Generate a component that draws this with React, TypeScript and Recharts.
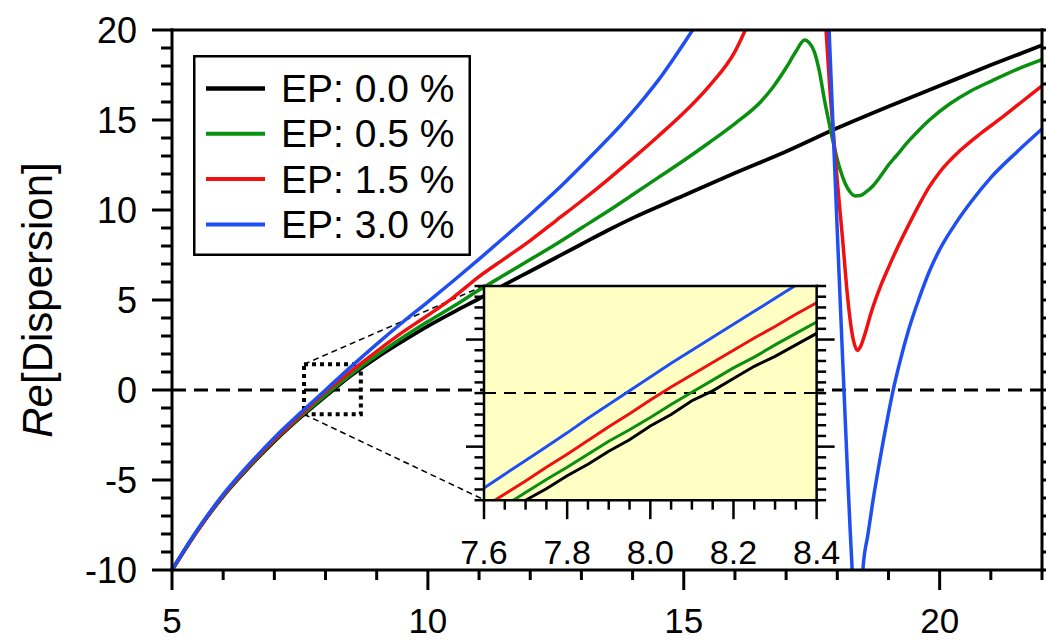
import React from "react";
import {
  CartesianGrid,
  Legend,
  Line,
  LineChart,
  ReferenceArea,
  ReferenceLine,
  XAxis,
  YAxis,
} from "recharts";

const FONT = "'Liberation Sans', Arial, sans-serif";

// Re[Dispersion] curves, [x, y] pairs per excess-pressure setting
const EP00: [number, number][] = [
  [5, -10], [5.5, -7.8], [6, -5.9], [6.5, -4.3], [7, -2.85], [7.5, -1.55], [8, -0.35],
  [8.5, 0.8], [9, 1.8], [9.5, 2.7], [10, 3.55], [10.5, 4.33], [11, 5.07], [11.5, 5.85],
  [12, 6.6], [12.5, 7.35], [13, 8.1], [13.5, 8.85], [14, 9.55], [15, 10.8], [16, 12.05],
  [17, 13.25], [18, 14.55], [19, 15.75], [20, 16.9], [21, 18.05], [22, 19.15],
];

const EP05: [number, number][] = [
  [5, -10], [5.5, -7.8], [6, -5.88], [6.5, -4.27], [7, -2.8], [7.5, -1.5], [8, -0.28],
  [8.5, 0.87], [9, 1.92], [9.5, 2.9], [10, 3.8], [10.5, 4.65], [11, 5.55], [11.5, 6.4],
  [12, 7.25], [12.5, 8.1], [13, 9.0], [13.5, 9.9], [14, 10.85], [14.5, 11.8], [15, 12.75],
  [15.5, 13.75], [16, 14.8], [16.5, 16.0], [16.75, 16.85], [17, 17.9], [17.2, 18.85],
  [17.36, 19.45], [17.45, 19.3], [17.55, 18.8], [17.65, 17.7], [17.75, 16.1], [17.85, 14.7],
  [17.95, 13.4], [18.05, 12.3], [18.15, 11.5], [18.25, 11.0], [18.35, 10.78], [18.45, 10.8],
  [18.55, 10.98], [18.7, 11.35], [18.85, 11.9], [19, 12.5], [19.15, 13.0], [19.4, 13.85],
  [19.6, 14.45], [19.8, 15.0], [20.2, 15.9], [20.6, 16.6], [21, 17.15], [21.5, 17.8], [22, 18.35],
];

const EP15: [number, number][] = [
  [5, -10], [5.5, -7.8], [6, -5.85], [6.5, -4.22], [7, -2.75], [7.5, -1.42], [8, -0.1],
  [8.5, 1.05], [9, 2.15], [9.5, 3.2], [10, 4.15], [10.5, 5.15], [11, 6.3], [11.5, 7.3],
  [12, 8.3], [12.5, 9.4], [13, 10.5], [13.5, 11.65], [14, 12.85], [14.5, 14.1], [15, 15.4],
  [15.5, 16.9], [16, 18.8], [16.25, 20.3], [16.5, 22], [17, 25.5], [17.4, 27], [17.65, 24.5],
  [17.78, 20], [17.85, 16.9], [17.92, 14.4], [18, 11.6], [18.1, 8.5], [18.2, 5.2],
  [18.26, 3.7], [18.32, 2.7], [18.4, 2.2], [18.46, 2.45], [18.55, 3.2], [18.65, 4.2],
  [18.75, 5.05], [18.85, 5.8], [19, 6.8], [19.15, 7.75], [19.4, 9.2], [19.6, 10.3],
  [19.8, 11.3], [20, 12.1], [20.4, 13.3], [20.8, 14.25], [21.2, 15.1], [21.6, 16], [22, 16.9],
];

const EP30: [number, number][] = [
  [5, -10], [5.5, -7.75], [6, -5.8], [6.5, -4.15], [7, -2.65], [7.5, -1.3], [8, 0],
  [8.5, 1.3], [9, 2.55], [9.5, 3.75], [10, 4.9], [10.5, 6.07], [11, 7.27], [11.5, 8.5],
  [12, 9.75], [12.5, 11.05], [13, 12.45], [13.5, 13.9], [13.75, 14.65], [14, 15.45],
  [14.25, 16.3], [14.5, 17.2], [14.75, 18.2], [15, 19.25], [15.25, 20.35], [15.5, 21.6],
  [16, 24], [16.5, 26.5], [17, 28], [17.5, 27], [17.7, 24.5], [17.8, 22.7], [17.84, 20],
  [17.88, 17.2], [17.92, 14.4], [17.96, 11.6], [18, 8.8], [18.05, 5.4], [18.1, 2],
  [18.15, -1.3], [18.2, -4.6], [18.25, -7.7], [18.3, -10.5], [18.35, -13.2], [18.4, -14.5],
  [18.45, -13.2], [18.5, -10], [18.6, -8], [18.7, -6.1], [18.8, -4.4], [18.9, -2.8],
  [19, -1.3], [19.1, 0.1], [19.2, 1.3], [19.4, 3.4], [19.6, 5.1], [19.8, 6.6], [20, 7.8],
  [20.3, 9.2], [20.6, 10.4], [21, 11.8], [21.5, 13.2], [22, 14.5],
];

// zoomed view around the zero crossing
const EP00_ZOOM: [number, number][] = [
  [7.6, -1.72], [7.65, -1.56], [7.7, -1.4], [7.75, -1.25], [7.8, -1.08], [7.85, -0.93],
  [7.9, -0.76], [7.95, -0.61], [8.0, -0.43], [8.05, -0.28], [8.1, -0.1], [8.15, 0.03],
  [8.2, 0.19], [8.25, 0.35], [8.3, 0.48], [8.35, 0.63], [8.4, 0.78],
];
const EP05_ZOOM: [number, number][] = [
  [7.6, -1.63], [7.65, -1.47], [7.7, -1.3], [7.75, -1.13], [7.8, -0.97], [7.85, -0.8],
  [7.9, -0.63], [7.95, -0.48], [8.0, -0.32], [8.05, -0.15], [8.1, 0.01], [8.15, 0.17],
  [8.2, 0.33], [8.25, 0.47], [8.3, 0.63], [8.35, 0.78], [8.4, 0.93],
];
const EP15_ZOOM: [number, number][] = [
  [7.6, -1.49], [7.65, -1.32], [7.7, -1.15], [7.75, -0.97], [7.8, -0.8], [7.85, -0.62],
  [7.9, -0.44], [7.95, -0.27], [8.0, -0.09], [8.05, 0.08], [8.1, 0.24], [8.15, 0.4],
  [8.2, 0.56], [8.25, 0.72], [8.3, 0.87], [8.35, 1.03], [8.4, 1.18],
];
const EP30_ZOOM: [number, number][] = [
  [7.6, -1.24], [7.65, -1.06], [7.7, -0.88], [7.75, -0.7], [7.8, -0.52], [7.85, -0.33],
  [7.9, -0.15], [7.95, 0.03], [8.0, 0.21], [8.05, 0.39], [8.1, 0.56], [8.15, 0.73],
  [8.2, 0.9], [8.25, 1.07], [8.3, 1.24], [8.35, 1.41], [8.4, 1.58],
];

const SERIES = [
  { name: "EP: 0.0 %", color: "#000000", width: 3.8, main: EP00, zoom: EP00_ZOOM },
  { name: "EP: 0.5 %", color: "#0a9010", width: 3.5, main: EP05, zoom: EP05_ZOOM },
  { name: "EP: 1.5 %", color: "#f01010", width: 3.5, main: EP15, zoom: EP15_ZOOM },
  { name: "EP: 3.0 %", color: "#1f4ff2", width: 3.5, main: EP30, zoom: EP30_ZOOM },
];

const X_DOMAIN: [number, number] = [5, 22];
const Y_DOMAIN: [number, number] = [-10, 20];
const X_LABELS = [5, 10, 15, 20];
const Y_LABELS = [-10, -5, 0, 5, 10, 15, 20];

const ZOOM_X_DOMAIN: [number, number] = [7.6, 8.4];
const ZOOM_Y_DOMAIN: [number, number] = [-1.4, 1.4];
const ZOOM_X_LABELS = [7.6, 7.8, 8.0, 8.2, 8.4];
const ZOOM_Y_MAJOR = [-0.7, 0.7];

// dotted marker around the zoomed region, and where the inset sits (main data units)
const ZOOM_MARK = { x1: 7.58, x2: 8.69, y1: -1.35, y2: 1.43 };
const INSET_BOX = { x1: 11.1, x2: 17.6, y1: -6.1, y2: 5.8 };

const W = 1046;
const H = 641;
const PLOT = { left: 172, top: 30, right: 1042, bottom: 570 };
const INSET_PAD = { left: 40, right: 40, top: 30, bottom: 80 };

const range = (a: number, b: number, step: number) => {
  const out: number[] = [];
  const n = Math.round((b - a) / step);
  for (let i = 0; i <= n; i++) out.push(Math.round((a + i * step) * 1000) / 1000);
  return out;
};

const X_TICKS = range(5, 22, 1);
const Y_TICKS = range(-10, 20, 1);
const ZOOM_X_TICKS = range(7.6, 8.4, 0.05);
const ZOOM_Y_TICKS = range(-1.4, 1.4, 0.14);

const toRows = (pts: [number, number][]) => pts.map(([x, y]) => ({ x, y }));

const px = (x: number) =>
  PLOT.left + ((x - X_DOMAIN[0]) / (X_DOMAIN[1] - X_DOMAIN[0])) * (PLOT.right - PLOT.left);
const py = (y: number) =>
  PLOT.bottom - ((y - Y_DOMAIN[0]) / (Y_DOMAIN[1] - Y_DOMAIN[0])) * (PLOT.bottom - PLOT.top);

const isIn = (list: number[], v: number) => list.some((m) => Math.abs(m - v) < 1e-6);

type Side = "bottom" | "top" | "left" | "right";

// tick line (long for majors) plus optional label for majors
function makeTick(
  side: Side,
  majors: number[],
  long: number,
  short: number,
  width: number,
  label?: { size: number; offset: number; digits: number }
) {
  return function Tick(props: any) {
    const x = props.x as number;
    const y = props.y as number;
    const v = props.payload.value as number;
    const major = isIn(majors, v);
    const len = major ? long : short;
    let x2 = x;
    let y2 = y;
    if (side === "bottom") y2 = y + len;
    if (side === "top") y2 = y - len;
    if (side === "left") x2 = x - len;
    if (side === "right") x2 = x + len;
    return (
      <g>
        <line x1={x} y1={y} x2={x2} y2={y2} stroke="#000" strokeWidth={width} />
        {label && major && side === "bottom" && (
          <text x={x} y={y + label.offset} textAnchor="middle" fontSize={label.size} fontFamily={FONT} fill="#000">
            {v.toFixed(label.digits)}
          </text>
        )}
        {label && major && side === "left" && (
          <text x={x - label.offset} y={y} dy="0.36em" textAnchor="end" fontSize={label.size} fontFamily={FONT} fill="#000">
            {v.toFixed(label.digits)}
          </text>
        )}
      </g>
    );
  };
}

const MainBottomTick = makeTick("bottom", X_LABELS, 20, 10, 3, { size: 35, offset: 63, digits: 0 });
const MainTopTick = makeTick("top", X_LABELS, 20, 11, 3);
const MainLeftTick = makeTick("left", Y_LABELS, 20, 11, 3, { size: 36, offset: 35, digits: 0 });
const MainRightTick = makeTick("right", Y_LABELS, 20, 11, 3);

const ZoomBottomTick = makeTick("bottom", ZOOM_X_LABELS, 19, 9.5, 2.5, { size: 34, offset: 63.5, digits: 1 });
const ZoomTopTick = makeTick("top", ZOOM_X_LABELS, 18, 9.5, 2.5);
const ZoomLeftTick = makeTick("left", ZOOM_Y_MAJOR, 18, 9.5, 2.5);
const ZoomRightTick = makeTick("right", ZOOM_Y_MAJOR, 18, 9.5, 2.5);

const FRAME = { stroke: "#000", strokeWidth: 3, strokeLinecap: "square" as const };
const ZOOM_FRAME = { stroke: "#000", strokeWidth: 2.5, strokeLinecap: "square" as const };

function YTitle() {
  const cx = 37;
  const cy = 300;
  return (
    <text
      x={cx}
      y={cy}
      transform={`rotate(-90 ${cx} ${cy})`}
      textAnchor="middle"
      dominantBaseline="central"
      fontSize={42}
      fontFamily={FONT}
      fill="#000"
    >
      <tspan fontStyle="italic">Re</tspan>
      <tspan>[Dispersion]</tspan>
    </text>
  );
}

const LEGEND = { left: 193, top: 55, w: 278, h: 201 };

function LegendBox(props: any) {
  const items: any[] = props.payload ?? [];
  return (
    <svg width={LEGEND.w} height={LEGEND.h} style={{ display: "block" }}>
      <rect
        x={1.25}
        y={1.25}
        width={LEGEND.w - 2.5}
        height={LEGEND.h - 2.5}
        fill="#fff"
        stroke="#000"
        strokeWidth={2.5}
      />
      {items.map((it, i) => {
        const cy = 33.5 + i * 45.3;
        return (
          <g key={it.value}>
            <line x1={13} x2={72} y1={cy} y2={cy} stroke={it.color} strokeWidth={i === 0 ? 4.5 : 4} />
            <text x={88} y={cy + 13.5} fontSize={39} fontFamily={FONT} fill="#000">
              {it.value}
            </text>
          </g>
        );
      })}
    </svg>
  );
}

function Inset() {
  const left = px(INSET_BOX.x1);
  const right = px(INSET_BOX.x2);
  const top = py(INSET_BOX.y2);
  const bottom = py(INSET_BOX.y1);
  const w = right - left + INSET_PAD.left + INSET_PAD.right;
  const h = bottom - top + INSET_PAD.top + INSET_PAD.bottom;
  return (
    <div style={{ position: "absolute", left: left - INSET_PAD.left, top: top - INSET_PAD.top }}>
      <LineChart
        width={w}
        height={h}
        margin={{
          top: INSET_PAD.top - 1,
          right: INSET_PAD.right - 1,
          bottom: INSET_PAD.bottom - 1,
          left: INSET_PAD.left - 1,
        }}
      >
        <CartesianGrid fill="#ffffc4" fillOpacity={1} horizontal={false} vertical={false} />
        <XAxis
          dataKey="x"
          type="number"
          domain={ZOOM_X_DOMAIN}
          ticks={ZOOM_X_TICKS}
          interval={0}
          allowDataOverflow
          height={1}
          tickSize={0}
          tickMargin={0}
          tickLine={false}
          axisLine={ZOOM_FRAME}
          tick={ZoomBottomTick}
        />
        <XAxis
          xAxisId="top"
          orientation="top"
          type="number"
          domain={ZOOM_X_DOMAIN}
          ticks={ZOOM_X_TICKS}
          interval={0}
          allowDataOverflow
          height={1}
          tickSize={0}
          tickMargin={0}
          tickLine={false}
          axisLine={ZOOM_FRAME}
          tick={ZoomTopTick}
        />
        <YAxis
          type="number"
          domain={ZOOM_Y_DOMAIN}
          ticks={ZOOM_Y_TICKS}
          interval={0}
          allowDataOverflow
          width={1}
          tickSize={0}
          tickMargin={0}
          tickLine={false}
          axisLine={ZOOM_FRAME}
          tick={ZoomLeftTick}
        />
        <YAxis
          yAxisId="right"
          orientation="right"
          type="number"
          domain={ZOOM_Y_DOMAIN}
          ticks={ZOOM_Y_TICKS}
          interval={0}
          allowDataOverflow
          width={1}
          tickSize={0}
          tickMargin={0}
          tickLine={false}
          axisLine={ZOOM_FRAME}
          tick={ZoomRightTick}
        />
        <ReferenceLine y={0} stroke="#000" strokeWidth={2} strokeDasharray="12 8" />
        {SERIES.map((s) => (
          <Line
            key={s.name}
            data={toRows(s.zoom)}
            dataKey="y"
            name={s.name}
            type="linear"
            stroke={s.color}
            strokeWidth={3}
            dot={false}
            activeDot={false}
            isAnimationActive={false}
          />
        ))}
      </LineChart>
    </div>
  );
}

export default function App() {
  return (
    <div style={{ position: "absolute", left: 0, top: 0, width: W, height: H, background: "#fff", overflow: "hidden" }}>
      <LineChart
        width={W}
        height={H}
        margin={{ top: PLOT.top - 1, right: W - PLOT.right - 1, bottom: H - PLOT.bottom - 1, left: PLOT.left - 1 }}
      >
        <XAxis
          dataKey="x"
          type="number"
          domain={X_DOMAIN}
          ticks={X_TICKS}
          interval={0}
          allowDataOverflow
          height={1}
          tickSize={0}
          tickMargin={0}
          tickLine={false}
          axisLine={FRAME}
          tick={MainBottomTick}
        />
        <XAxis
          xAxisId="top"
          orientation="top"
          type="number"
          domain={X_DOMAIN}
          ticks={X_TICKS}
          interval={0}
          allowDataOverflow
          height={1}
          tickSize={0}
          tickMargin={0}
          tickLine={false}
          axisLine={FRAME}
          tick={MainTopTick}
        />
        <YAxis
          type="number"
          domain={Y_DOMAIN}
          ticks={Y_TICKS}
          interval={0}
          allowDataOverflow
          width={1}
          tickSize={0}
          tickMargin={0}
          tickLine={false}
          axisLine={FRAME}
          tick={MainLeftTick}
          label={<YTitle />}
        />
        <YAxis
          yAxisId="right"
          orientation="right"
          type="number"
          domain={Y_DOMAIN}
          ticks={Y_TICKS}
          interval={0}
          allowDataOverflow
          width={1}
          tickSize={0}
          tickMargin={0}
          tickLine={false}
          axisLine={FRAME}
          tick={MainRightTick}
        />
        <ReferenceLine y={0} stroke="#000" strokeWidth={3} strokeDasharray="14 8" />
        <ReferenceLine
          segment={[
            { x: ZOOM_MARK.x1, y: ZOOM_MARK.y2 },
            { x: INSET_BOX.x1, y: INSET_BOX.y2 },
          ]}
          stroke="#000"
          strokeWidth={1.5}
          strokeDasharray="6 4"
        />
        <ReferenceLine
          segment={[
            { x: ZOOM_MARK.x1, y: ZOOM_MARK.y1 },
            { x: INSET_BOX.x1, y: INSET_BOX.y1 },
          ]}
          stroke="#000"
          strokeWidth={1.5}
          strokeDasharray="6 4"
        />
        {SERIES.map((s) => (
          <Line
            key={s.name}
            data={toRows(s.main)}
            dataKey="y"
            name={s.name}
            type="monotone"
            stroke={s.color}
            strokeWidth={s.width}
            dot={false}
            activeDot={false}
            isAnimationActive={false}
          />
        ))}
        <ReferenceArea
          x1={ZOOM_MARK.x1}
          x2={ZOOM_MARK.x2}
          y1={ZOOM_MARK.y1}
          y2={ZOOM_MARK.y2}
          fill="none"
          stroke="#000"
          strokeWidth={4}
          strokeDasharray="4 4"
        />
        <Legend
          layout="vertical"
          align="center"
          verticalAlign="middle"
          wrapperStyle={{ left: LEGEND.left, top: LEGEND.top, width: LEGEND.w, height: LEGEND.h }}
          content={<LegendBox />}
        />
      </LineChart>
      <Inset />
    </div>
  );
}
